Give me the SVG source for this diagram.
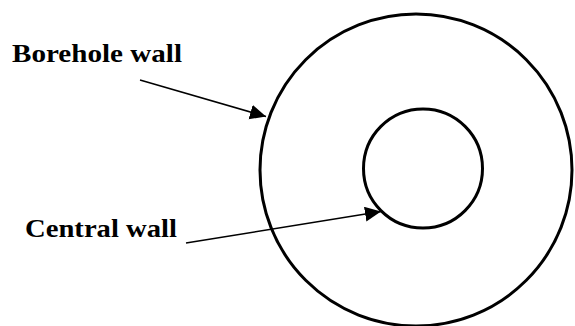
<svg xmlns="http://www.w3.org/2000/svg" width="575" height="326" viewBox="0 0 575 326">
<defs>
<style>
.wall{fill:none;stroke:#000;stroke-width:3}
.lbl{font-family:"Liberation Serif","Times New Roman",serif;font-weight:bold;font-size:26px;fill:#000}
.conn{stroke:#000;stroke-width:1.5;fill:none}
</style>
<marker id="ah" markerUnits="userSpaceOnUse" markerWidth="18" markerHeight="16" refX="16" refY="7.5" orient="auto">
<path d="M0,0 L16,7.5 L0,15 Z" fill="#000"/>
</marker>
</defs>
<rect width="575" height="326" fill="#fff"/>
<g id="borehole-wall">
<circle class="wall" cx="416" cy="170" r="156"/>
</g>
<g id="central-wall">
<circle class="wall" cx="423" cy="168.5" r="59.5"/>
</g>
<g id="label-borehole">
<text class="lbl" x="12" y="62" textLength="170" lengthAdjust="spacingAndGlyphs">Borehole wall</text>
</g>
<g id="label-central">
<text class="lbl" x="25" y="237" textLength="152" lengthAdjust="spacingAndGlyphs">Central wall</text>
</g>
<g id="connectors">
<line class="conn" x1="140" y1="80" x2="266" y2="116.5" marker-end="url(#ah)"/>
<line class="conn" x1="186" y1="243" x2="381" y2="211.5" marker-end="url(#ah)"/>
</g>
</svg>
